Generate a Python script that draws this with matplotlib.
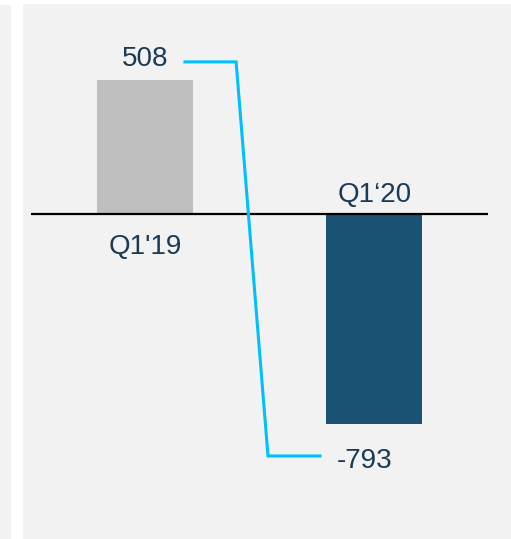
import matplotlib
matplotlib.use("Agg")
import matplotlib.pyplot as plt
from matplotlib.patches import Rectangle

categories = ["Q1'19", "Q1\u201820"]
values = [508, -793]
bar_colors = ["#bfbfbf", "#1a5274"]

text_color = "#1b3a55"
line_color = "#00bfff"
plt.rcParams['font.family'] = ['Liberation Sans', 'DejaVu Sans']

fig = plt.figure(figsize=(5.11, 5.39), dpi=100)
fig.patch.set_facecolor("white")

# background panels (figure coords)
W, H = 511, 539
fig.patches.append(Rectangle((0, 0), 11 / W, (H - 5) / H, transform=fig.transFigure,
                             facecolor="#f2f2f2", edgecolor="none", zorder=-5))
fig.patches.append(Rectangle((23 / W, 0), (W - 23) / W, (H - 4) / H, transform=fig.transFigure,
                             facecolor="#f2f2f2", edgecolor="none", zorder=-5))

ax = fig.add_axes([31 / W, 0, (488 - 31) / W, 1])
ax.set_facecolor("none")
ax.set_xlim(-0.497, 1.495)
ax.set_ylim(-1229, 809)
ax.axis("off")

x = [0, 1]
ax.bar(x, values, width=0.418, color=bar_colors, zorder=2)
ax.axhline(0, color="black", lw=1.6, zorder=3)

# category labels
ax.text(x[0], -125, categories[0], ha="center", va="center", fontsize=20, color=text_color)
ax.text(x[1], 72, categories[1], ha="center", va="center", fontsize=20, color=text_color)

# value labels with connector
y0 = values[0] + 67
y1 = values[1] - 122
ax.plot([0.174, 0.397, 0.536, 0.763], [y0, y0, y1, y1], color=line_color, lw=2.2,
        solid_joinstyle="miter", zorder=4)
ax.text(x[0], y0 + 12, f"{values[0]}", ha="center", va="center", fontsize=20, color=text_color)
ax.text(0.956, y1 - 18, f"{values[1]}", ha="center", va="center", fontsize=20, color=text_color)

fig.savefig("out.png", dpi=100, facecolor=fig.get_facecolor())
